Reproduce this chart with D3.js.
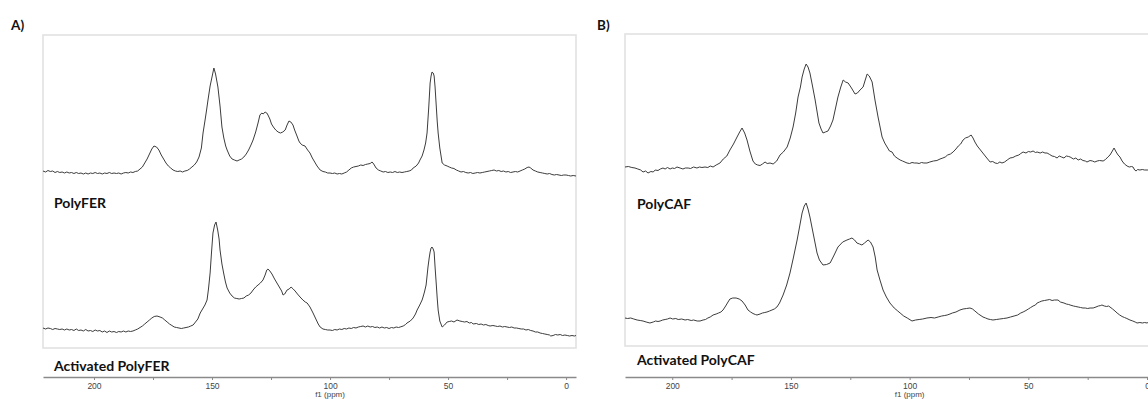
<!DOCTYPE html>
<html><head><meta charset="utf-8">
<script src="https://cdn.jsdelivr.net/npm/d3@7"></script>
<style>
html,body{margin:0;padding:0;background:#fff;}
svg{display:block;}
</style></head>
<body>
<svg id="c" width="1148" height="399"></svg>
<script>
// ===== DATA (ppm, intensity a.u.) =====
const panelLabels = ["A)", "B)"];
const spectrumNames = ["PolyFER", "Activated PolyFER", "PolyCAF", "Activated PolyCAF"];
const axisTicks = [200, 175, 150, 125, 100, 75, 50, 25, 0];
const axisTickLabels = ["200", "", "150", "", "100", "", "50", "", "0"];
const axisTitle = "f1 (ppm)";

const polyFER = [[221.6,5],[220.5,4],[219.5,5.5],[218.5,4.5],[217.5,5],[216.5,3.5],[215.5,4.5],[214.5,3.5],[213.5,4],[212.5,3],[211.5,4],[210.5,3],[209.5,3.5],[208.5,2.5],[207.5,3.5],[206.5,2.5],[205.5,3],[204.5,2],[203.5,3],[202.5,2],[201.5,3],[200.5,2.5],[199.5,3.5],[198.5,2.5],[197.5,3],[196.5,2],[195.5,3],[194.5,2.5],[193.5,3.5],[192.5,2.5],[191.5,3],[190.5,2.5],[189.5,3],[188.5,2],[187.5,3],[186.5,3.5],[185.5,3],[184.5,4],[183.5,3.5],[182.5,4.5],[181.5,5],[180.5,7],[179.5,9],[178.5,13],[177.5,17],[176.5,22],[175.5,27],[174.6,30],[173.5,29],[172.5,26],[171.5,21],[170.5,17],[169.5,13],[168.5,10],[167.5,8],[166.5,6],[165.5,5],[164.5,4.5],[163.5,5],[162.5,4],[161.5,5],[160.5,5.5],[159.5,7],[158.5,9],[157.5,11],[156.5,14],[155.5,19],[154.5,28],[153.8,43],[153,55],[152.3,66],[151.7,76],[150.8,90],[150,99],[149.2,108],[148.5,102],[147.5,89],[146.6,70],[145.8,49],[145,38],[144.2,30],[143.6,26],[142.5,20],[141.5,17],[140.5,16],[139.4,15],[138.5,16],[137.5,17],[136.5,19],[135.5,22],[134.5,26],[133.5,31],[132.6,36],[131.5,44],[130.5,53],[129.7,61],[128.9,63],[128.3,62],[127.5,64],[126.8,63],[126.3,61],[125.5,57],[124.8,52],[124,49],[123,46],[122,44],[121,43],[120,44],[119,46],[118.2,51],[117.4,55],[116.6,54],[115.7,51],[115,46],[114,40],[113.2,35],[112.7,33],[111.8,31],[110.6,30],[109.5,26],[108.5,23],[107.5,18],[106.5,14],[105.5,10],[104.2,6],[103,4.5],[102,4],[101,3],[100,3],[99,2.5],[98,3],[97,2],[96,2.5],[95,2],[94,3],[93,4],[92,6],[91,8],[90,9],[89,9.5],[88,10],[87,11],[86,10.5],[85,11.5],[84,12],[83,12.5],[82.2,14],[81.5,12],[80.5,8],[79.5,6],[78.5,5],[77.5,4],[76.5,4.5],[75.5,3.5],[74.5,4],[73.5,3.5],[72.5,4.5],[71.5,3.5],[70.5,4],[69.5,3.5],[68.5,4],[67.5,4.5],[66.5,5],[65.5,6],[64.8,8],[63.5,10],[62.5,13],[61.9,16],[61,20],[60.2,26],[59.5,33],[58.9,43],[58.2,68],[57.6,93],[57.2,100],[56.8,104],[56.3,103],[55.9,100],[55.5,89],[55,70],[54.6,55],[54.2,43],[53.5,28],[52.5,13],[51.5,11],[50.4,10],[49.5,9],[48.5,8],[47.5,7.5],[46.5,6],[45.5,5],[44.5,4],[43.5,4.5],[42.5,3.5],[41.5,3],[40.5,3.5],[39.5,2.5],[38.5,3],[37.5,3.5],[36.5,3],[35.5,3.5],[34.5,4],[33.5,4.5],[32.5,5],[31.5,5.5],[30.5,6],[29.5,5],[28.5,5.5],[27.5,4.5],[26.5,5],[25.5,4],[24.5,4.5],[23.5,3.5],[22.5,4],[21.5,4.5],[20.5,4],[19.5,5],[18.5,6],[17.5,7],[16.5,8.5],[15.7,9],[15,8],[14,6],[13,5],[12,4],[11,3.5],[10,3],[9,2.5],[8,2],[7,2.5],[6,1.5],[5,1],[4,1.5],[3,1],[2,0.5],[1,1],[0,1],[-1,0.5],[-2,0],[-3,0.5],[-4.2,0]];

const activatedPolyFER = [[221.6,8],[220.5,7],[219.5,8],[218.5,7.5],[217.5,6.5],[216.5,7.5],[215.5,7],[214.5,6.5],[213.5,7],[212.5,6],[211.5,7],[210.5,6],[209.5,6.5],[208.5,5.5],[207.5,7],[206.5,5.5],[205.5,6],[204.5,5],[203.5,6.5],[202.5,5],[201.5,5.5],[200.5,4.5],[199.5,6],[198.5,5],[197.5,5.5],[196.5,4],[195.5,5],[194.5,3.5],[193.5,5],[192.5,4],[191.5,4.5],[190.5,3.5],[189.5,4.5],[188.5,4],[187.5,5],[186.5,4],[185.5,5],[184.5,4.5],[183.5,5],[182.5,6],[181.5,7],[180.5,8.5],[179.5,10],[178.5,12],[177.5,14],[176.5,16],[175.5,18],[174.5,19.5],[173.3,20],[172,19],[171,18],[170,16],[169,14],[168,12],[167,10.5],[166,9],[165,8.5],[164,8],[163,7.5],[162,8],[161,8.5],[160,9],[159,10],[158,11],[157,14],[156,17],[155,23],[154,27],[153,31],[152.1,36],[151.5,47],[150.8,63],[150.2,84],[149.6,103],[148.9,111],[148.3,114],[147.6,106],[147,97],[146.6,86],[145.8,72],[145,62],[144.3,54],[143.6,48],[142.5,43],[141.5,40],[140.5,38],[139.5,37.5],[138.5,37],[137.5,37.5],[136.5,38],[135.5,40],[134.5,41],[133.5,43],[132.6,46],[131.5,49],[130.5,51],[129.5,53],[128.4,56],[127.5,61],[126.8,66],[126.3,67],[125.5,65],[124.6,62],[123.5,57],[122.5,53],[121.5,49],[120.5,45],[119.9,41],[119.2,42],[118.2,46],[117.3,47],[116.5,49],[115.6,47],[114.8,45],[113.8,42],[112.7,39],[111.5,36],[110.5,34],[109.7,33],[108.5,29],[107.2,23],[106,17],[105,12],[104.2,9],[103,7],[102,6.5],[101,6],[100,6],[99,5.5],[98,6.5],[97,6],[96,7],[95,6.5],[94,7.5],[93,7],[92,8],[91,7.5],[90,8.5],[89,8],[88,9],[87,9.5],[86,10],[85,9],[84,10],[83,9],[82,9.5],[81,8.5],[80,9],[79,8],[78,9],[77,8],[76,8.5],[75,7.5],[74,8.5],[73,8],[72,9],[71,8.5],[70.3,9],[69,10],[68,11.5],[67.4,13],[66,15],[64.8,18],[63.8,22],[63.1,26],[62,31],[61,36],[60.6,39],[60,44],[59.3,51],[58.9,60],[58.5,69],[58,78],[57.6,84],[57.2,88],[56.8,89],[56.3,87],[55.9,84],[55.5,69],[55,52],[54.6,38],[54.2,26],[53.5,15],[52.5,9],[51.5,11],[50.4,14],[49.5,14.5],[48.5,15],[47.5,14],[46.2,16],[45,15],[44,14.5],[43,14],[42,14.5],[41,13],[40,13.5],[39.4,12],[38,12.5],[37,11.5],[36,12],[35,11],[34,11.5],[33,10.5],[32.2,10],[31,10.5],[30,10],[29,9.5],[28,10],[27,9],[26,9.5],[25,9],[24,8.5],[23,9],[22,8],[21,8],[20,7.5],[19,7],[18,7],[17,6],[16,6.5],[15,5.5],[14,5],[13,4],[12,4],[11,3],[10,2.5],[9,2],[8,1.5],[7,1],[6.5,0],[5.5,0.5],[4.5,1.5],[3.5,1],[2.5,1.5],[1.5,0.5],[0.5,1],[-0.5,0.5],[-1.5,0],[-2.5,0.5],[-3.5,0],[-4.2,0.5]];

const polyCAF = [[219.9,6],[218.5,6.5],[217,5.5],[215.7,5],[214.5,4],[213.3,3],[212.3,1],[211.2,2],[210.2,0],[209,1.5],[208,1],[207.2,3],[206,2.5],[205,4],[203.9,5],[203,4],[202,5.5],[200.9,4],[200,5],[199,4.5],[198,6],[196.7,5],[195.5,4],[194.5,5],[193.3,5],[192.3,4.5],[191,6],[189.6,5],[188.5,6],[187.5,5.5],[186.2,6],[185,5.5],[184,7],[182.8,6],[181.5,8],[179.9,10],[178.5,14],[177,17],[175.7,23],[174.2,29],[172.7,36],[171.6,41],[170.6,45],[169.5,40],[168.5,33],[167.3,22],[166,12],[165,9],[164,8],[163,7.5],[162,9],[160.9,11],[160,9.5],[158.8,10],[157.5,9],[156,12],[154.6,18],[153.2,21],[151.6,26],[150.3,35],[149.1,46],[148,60],[147,76],[146,86],[145.3,96],[144.4,104],[143.6,109],[142.8,106],[142,100],[141,88],[139.8,73],[138.9,60],[138.2,50],[137.3,44],[136.5,40],[135.5,41],[134.4,42],[133.3,47],[132.3,53],[131.2,65],[130.2,76],[129,86],[128,93],[127,91],[125.9,90],[124.5,85],[123,79],[122,80],[120.9,83],[119.6,86],[118.7,93],[117.9,99],[117,97],[115.8,91],[114.6,73],[113.3,56],[111.6,36],[110.5,30],[109.5,26],[108.5,22],[107.4,21],[106.4,17],[105.3,15],[104,13],[103,12],[101.1,10],[100,9.5],[99,10.5],[98,10],[96.9,10],[96,9.5],[95,10.5],[94,10],[92.7,10],[91.5,11],[90,12],[88.5,12.5],[87.2,14],[86,15],[85,16],[84,18],[82.8,19],[81.7,21],[80.5,24],[79.5,27],[78.5,29],[77.5,33],[76.5,35],[75.3,36],[74.1,38],[73.3,35],[72.5,31],[71.5,27],[70.5,24],[69.5,21],[68.5,18],[67.5,15],[66.1,11],[65,11.5],[64,10],[63,9.5],[62,11],[61.1,10],[60,11],[58.9,13],[57.7,15],[56.5,15.5],[55.3,17],[54,18],[53.2,19.5],[52.2,21],[51,20],[50,21.5],[49,21],[48,22],[47,20.5],[46.3,21],[45,20],[44,21],[43,20],[42.1,20],[41,18.5],[40,17],[39,16.5],[37.9,15],[37,17],[36,16],[35,15],[34,17],[33,16.5],[32.4,16],[31,14],[30,15],[29,13],[28,14],[27,12.5],[26,12],[25.3,11],[24,12.5],[23,12],[22,11],[21,12],[20,12.5],[18.5,12],[17.5,13.5],[16.5,16],[15.6,18],[14.6,22],[13.9,25],[13,21],[12.2,18],[11.4,16],[10.5,12],[9.5,9],[8.4,7],[7.5,6],[6.5,6.5],[5.9,6],[5.2,3],[4.6,2],[4,3.5],[3,3],[2,3.5],[1,3],[0,3],[-0.4,3]];

const activatedPolyCAF = [[219.9,5],[218.8,4.5],[217.5,5],[216.2,4],[214.8,3],[213.5,2.5],[212.3,2],[211,1],[209.4,0],[208,1],[207,2],[206,1.5],[205.1,2],[204,3],[203,3.5],[202,4],[200.9,5],[199.8,4],[198.5,4.5],[197.5,3.5],[196,4],[194.6,3],[193.5,3.5],[192,2.5],[191,3],[189.5,2],[188.3,2],[187,3],[186,3.5],[185,5],[184,6],[182.8,8],[181.5,9],[180.5,10],[179.5,11],[178.6,13],[177.5,17],[176.5,21],[175.7,24],[174.5,25],[173.1,25],[171.8,24],[170.6,22],[169.3,18],[168.1,13],[167,11],[166,9.5],[165,8.5],[164.3,8],[163,9],[162,10],[161,10.5],[160.1,11],[159,12],[158,13],[157,14],[155.9,16],[154.8,20],[153.3,28],[151.8,38],[150.4,50],[149,65],[147.4,83],[146.3,97],[145.3,110],[144.4,117],[143.6,120],[142.8,114],[142,106],[140.5,88],[139,70],[138,63],[136.5,58],[135,58.5],[133.5,60],[132,67],[130.2,76],[128.2,81],[126.4,83],[125.3,84],[124.3,85],[123.2,83],[122.2,80],[121.1,79],[120.1,78],[119,80],[117.5,83],[116.5,81],[115.4,76],[114.5,66],[113.7,53],[112.5,43],[111.2,33],[109.8,26],[108.3,20],[106.5,15],[105,12],[104,10],[102.5,7],[101,5],[99,2],[97.5,3],[96,3.5],[94.5,4],[92.7,5],[91,5.5],[89.5,5],[88,6],[86.5,7],[85.2,7.5],[84.2,8],[83,9],[82,10],[80.5,11],[78.8,13],[77.5,14],[76,14.5],[74.6,15],[73.5,14],[72.5,12],[71,9],[69.1,6],[68,5],[67,4],[66,3.5],[64.9,3],[63.5,3.5],[62,4],[60.5,4.5],[59,5],[57.5,6],[56,7],[54.5,8],[53.2,10],[52.2,11],[51,12.5],[50,14],[49,15.5],[48,17],[47,18],[46.3,20],[45.3,21],[44.3,22],[43.2,22.5],[42.1,23],[41,23.5],[40,22.5],[39,23],[37.5,23],[36.5,21],[35,20],[34,19],[33,18.5],[32.4,18],[31,17],[30,16.5],[29,16],[28,15.5],[27,15],[26,15],[25,14.5],[24,15],[22.7,15],[21.5,16],[20.5,17],[19.5,17.5],[19,18],[18,17],[17,16.5],[16.2,17],[15.6,16],[14.5,14],[13.5,12],[12.6,10],[11.5,8],[10.5,6.5],[9.5,5.5],[8.5,4.5],[7.2,3],[6,2],[5,1],[4.2,0],[3,0.5],[2,0],[1,0.5],[0,0],[-0.4,0.5]];

// ===== LAYOUT =====
const svg = d3.select("#c");
const labelFont = "Lato, 'Open Sans', 'Liberation Sans', sans-serif";
const axisFont = "'Liberation Sans', Arial, sans-serif";

const panels = [
  {label: panelLabels[0], labelX: 11, labelY: 30,
   box: {x0: 43, x1: 576, y0: 35, y1: 348},
   xDomain: [221.6, -4.2], xRange: [43, 576], axisY: 377,
   traces: [
     {data: polyFER, name: spectrumNames[0], yDomain: [0, 110], yRange: [176, 66], nameX: 54, nameY: 208},
     {data: activatedPolyFER, name: spectrumNames[1], yDomain: [0, 120], yRange: [336, 216], nameX: 54, nameY: 371}
   ]},
  {label: panelLabels[1], labelX: 597, labelY: 30,
   box: {x0: 625, x1: 1170, y0: 34, y1: 346},
   xDomain: [219.9, -5], xRange: [625, 1158.9], axisY: 377,
   traces: [
     {data: polyCAF, name: spectrumNames[2], yDomain: [0, 110], yRange: [173, 63], nameX: 637, nameY: 209},
     {data: activatedPolyCAF, name: spectrumNames[3], yDomain: [0, 120], yRange: [323, 203], nameX: 637, nameY: 365}
   ]}
];

panels.forEach(p => {
  const g = svg.append("g");
  // frame
  g.append("rect")
    .attr("x", p.box.x0).attr("y", p.box.y0)
    .attr("width", p.box.x1 - p.box.x0).attr("height", p.box.y1 - p.box.y0)
    .attr("fill", "none").attr("stroke", "#e2e2e2").attr("stroke-width", 1.6);

  // panel label
  g.append("text").attr("x", p.labelX).attr("y", p.labelY)
    .attr("font-family", labelFont).attr("font-weight", 700).attr("font-size", 13.5)
    .attr("fill", "#111").text(p.label);

  const x = d3.scaleLinear().domain(p.xDomain).range(p.xRange);

  p.traces.forEach(t => {
    const y = d3.scaleLinear().domain(t.yDomain).range(t.yRange);
    const line = d3.line().x(d => x(d[0])).y(d => y(d[1])).curve(d3.curveLinear);
    g.append("path").datum(t.data).attr("d", line)
      .attr("fill", "none").attr("stroke", "#3c3c3c").attr("stroke-width", 1)
      .attr("stroke-linejoin", "round");
    g.append("text").attr("x", t.nameX).attr("y", t.nameY)
      .attr("font-family", labelFont).attr("font-weight", 700).attr("font-size", 14)
      .attr("fill", "#111").text(t.name);
  });

  // axis
  const axis = d3.axisBottom(x)
    .tickValues(axisTicks)
    .tickFormat((d, i) => axisTickLabels[i])
    .tickSize(3).tickSizeOuter(0).tickPadding(3);
  const ag = g.append("g").attr("transform", `translate(0,${p.axisY})`).call(axis);
  ag.select(".domain").attr("stroke", "#8a8a8a").attr("stroke-width", 1.5);
  ag.selectAll(".tick line").attr("stroke", "#8a8a8a");
  ag.selectAll(".tick text").attr("font-family", axisFont).attr("font-size", 8.5).attr("fill", "#444");

  g.append("text").attr("x", x(100)).attr("y", p.axisY + 19.5)
    .attr("text-anchor", "middle")
    .attr("font-family", axisFont).attr("font-size", 8).attr("fill", "#444")
    .text(axisTitle);
});
</script>
</body></html>
